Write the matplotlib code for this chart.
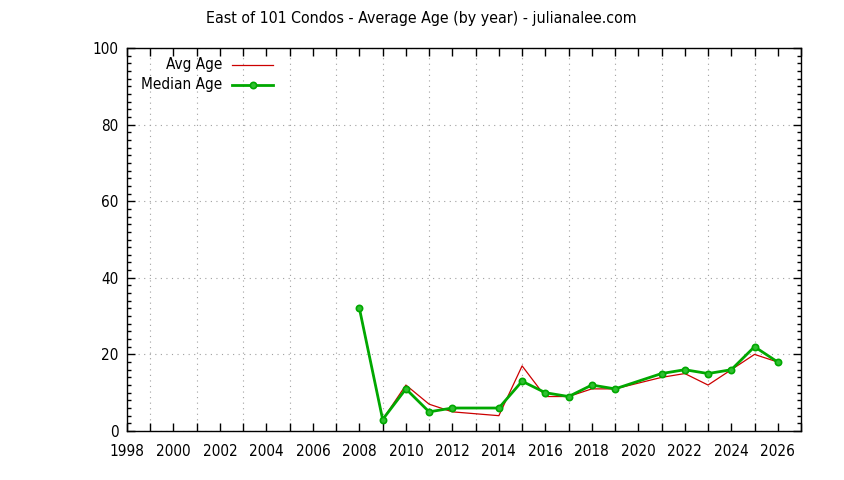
import matplotlib
matplotlib.use("Agg")
import matplotlib.pyplot as plt
from matplotlib.ticker import MultipleLocator

years = [2008, 2009, 2010, 2011, 2012, 2014, 2015, 2016, 2017, 2018, 2019, 2021, 2022, 2023, 2024, 2025, 2026]
avg_age = [32, 3, 12, 7, 5, 4, 17, 9, 9, 11, 11, 14, 15, 12, 16, 20, 18]
median_age = [32, 3, 11, 5, 6, 6, 13, 10, 9, 12, 11, 15, 16, 15, 16, 22, 18]
x_ticks = list(range(1998, 2027, 2))
y_ticks = [0, 20, 40, 60, 80, 100]
title = "East of 101 Condos - Average Age (by year) - julianalee.com"

plt.rcParams['font.family'] = ['DejaVu Sans']
plt.rcParams['font.stretch'] = 'condensed'
FS = 11
fig = plt.figure(figsize=(8.44, 4.8), dpi=100)
ax = fig.add_axes([127/844, 1-431/480, (801-127)/844, (431-48)/480])

red = '#cc0000'
green = '#00a800'
ax.plot(years, avg_age, color=red, lw=0.9, zorder=3)
ax.plot(years, median_age, color=green, lw=2, marker='o', ms=4.5,
        mfc='#30c030', mec=green, mew=1.2, zorder=4)

ax.set_xlim(1998, 2027)
ax.set_ylim(0, 100)
ax.set_xticks(x_ticks)
ax.set_xticks(range(1998, 2028), minor=True)
ax.set_yticks(y_ticks)
ax.yaxis.set_minor_locator(MultipleLocator(2))
ax.tick_params(which='both', direction='in', top=True, right=True, labelsize=FS, width=1)
ax.tick_params(axis='x', which='both', length=6, pad=9)
ax.tick_params(axis='y', which='major', length=6, pad=6)
ax.tick_params(axis='y', which='minor', length=3)
for s in ax.spines.values():
    s.set_linewidth(1)

ax.grid(True, which='minor', axis='x', color='#a0a0a0', lw=0.8, ls=(0, (1, 4)))
ax.grid(True, which='major', axis='y', color='#a0a0a0', lw=0.8, ls=(0, (1, 4)))
ax.set_axisbelow(True)

fig.text(421/844, 1-19/480, title, ha='center', va='center', fontsize=11.4)

# legend (gnuplot style: right-aligned text, sample line to the right)
tr = ax.transAxes
def fx(px):
    return (px - 127) / (801 - 127)
def fy(py):
    return (431 - py) / (431 - 48)
ax.text(fx(222), fy(65), "Avg Age", ha='right', va='center', fontsize=FS, transform=tr)
ax.text(fx(222), fy(85), "Median Age", ha='right', va='center', fontsize=FS, transform=tr)
ax.plot([fx(232), fx(273)], [fy(65), fy(65)], color=red, lw=0.9, transform=tr, clip_on=False)
ax.plot([fx(232), fx(273)], [fy(85), fy(85)], color=green, lw=2, transform=tr, clip_on=False)
ax.plot([fx(253)], [fy(85)], color=green, marker='o', ms=4.5, mfc='#30c030', mec=green,
        mew=1.2, transform=tr, clip_on=False)

fig.savefig("out.png", dpi=100)
